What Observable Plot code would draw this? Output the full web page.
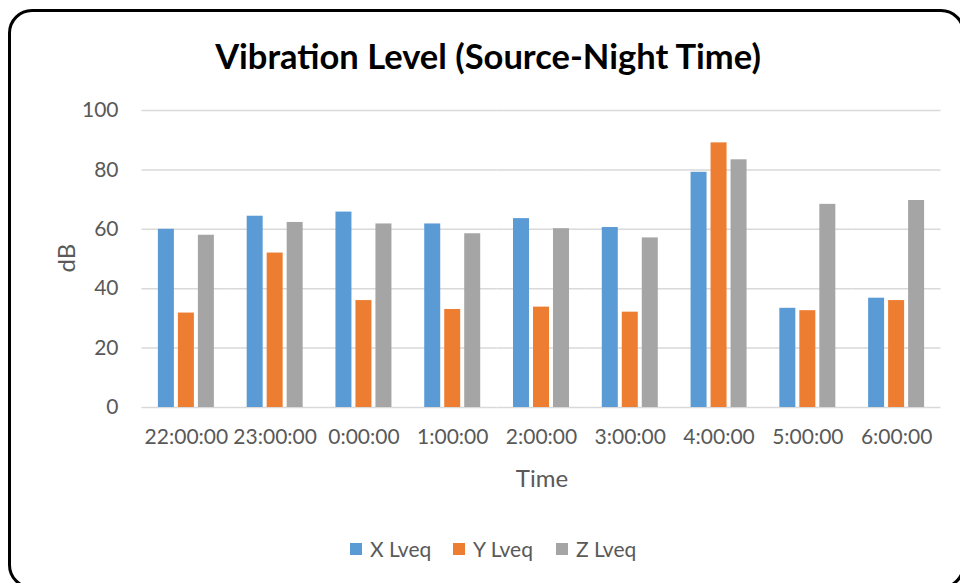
<!DOCTYPE html>
<html>
<head>
<meta charset="utf-8">
<script src="https://cdn.jsdelivr.net/npm/d3@7"></script>
<script src="https://cdn.jsdelivr.net/npm/@observablehq/plot@0.6"></script>
<style>
  html, body { margin: 0; padding: 0; background: #fff; }
  body { width: 960px; height: 583px; overflow: hidden; position: relative; font-family: Lato, "Open Sans", sans-serif; }
  #frame { position: absolute; left: 8px; top: 9px; width: 951px; height: 574px; border: 3px solid #000; border-radius: 24px; }
  #title { position: absolute; left: 0; width: 976px; top: 35px; text-align: center; font-weight: bold; font-size: 34.5px; color: #000; line-height: 42px; }
  #chart { position: absolute; left: 0; top: 90px; }
  #xlabel { position: absolute; left: 442px; width: 200px; text-align: center; top: 463px; font-size: 24px; color: #595959; line-height: 30px; }
  #ylabel { position: absolute; left: 66px; top: 258px; font-size: 24px; color: #595959; transform: translate(-50%, -50%) rotate(-90deg); line-height: 30px; }
  #legend { position: absolute; top: 536px; left: 350px; display: flex; align-items: center; font-size: 21px; color: #595959; line-height: 26px; }
  .item { display: flex; align-items: center; width: 103px; }
  .sw { width: 12px; height: 12px; margin-right: 8px; }
</style>
</head>
<body>
<div id="frame"></div>
<div id="title">Vibration Level (Source-Night Time)</div>
<div id="chart"></div>
<div id="xlabel">Time</div>
<div id="ylabel">dB</div>
<div id="legend"></div>
<script>
const times = ["22:00:00", "23:00:00", "0:00:00", "1:00:00", "2:00:00", "3:00:00", "4:00:00", "5:00:00", "6:00:00"];
const seriesNames = ["X Lveq", "Y Lveq", "Z Lveq"];
const xLveq = [60.0, 64.4, 65.8, 61.8, 63.6, 60.6, 79.2, 33.4, 36.8];
const yLveq = [31.8, 52.0, 36.0, 33.0, 33.8, 32.1, 89.1, 32.6, 36.0];
const zLveq = [58.0, 62.3, 61.8, 58.5, 60.2, 57.1, 83.4, 68.4, 69.7];
const yTicks = [0, 20, 40, 60, 80, 100];
const colors = ["#5B9BD5", "#ED7D31", "#A5A5A5"];

const seriesValues = [xLveq, yLveq, zLveq];
const data = [];
times.forEach((t, i) => {
  seriesNames.forEach((s, j) => {
    data.push({ time: t, series: s, value: seriesValues[j][i] });
  });
});

const chart = Plot.plot({
  width: 960,
  height: 410,
  marginLeft: 141.5,
  marginRight: 19.5,
  marginTop: 20,
  marginBottom: 93,
  style: { fontFamily: "Lato, 'Open Sans', sans-serif", fontSize: "21px", color: "#595959", background: "transparent" },
  fx: { domain: times, padding: 0, label: null, tickSize: 0, tickPadding: 22, round: false },
  x: { domain: seriesNames, paddingInner: 0.2, paddingOuter: 0.82, axis: null, round: false },
  y: { domain: [0, 100], ticks: yTicks, tickSize: 0, tickPadding: 23.5, label: null },
  color: { domain: seriesNames, range: colors },
  marks: [
    Plot.ruleY(yTicks, { stroke: "#d9d9d9", strokeWidth: 1.5 }),
    Plot.barY(data, { fx: "time", x: "series", y: "value", fill: "series" })
  ]
});
document.getElementById("chart").appendChild(chart);

const legend = document.getElementById("legend");
seriesNames.forEach((s, j) => {
  const item = document.createElement("div");
  item.className = "item";
  const sw = document.createElement("div");
  sw.className = "sw";
  sw.style.background = colors[j];
  const lab = document.createElement("span");
  lab.textContent = s;
  item.appendChild(sw);
  item.appendChild(lab);
  legend.appendChild(item);
});
</script>
</body>
</html>
